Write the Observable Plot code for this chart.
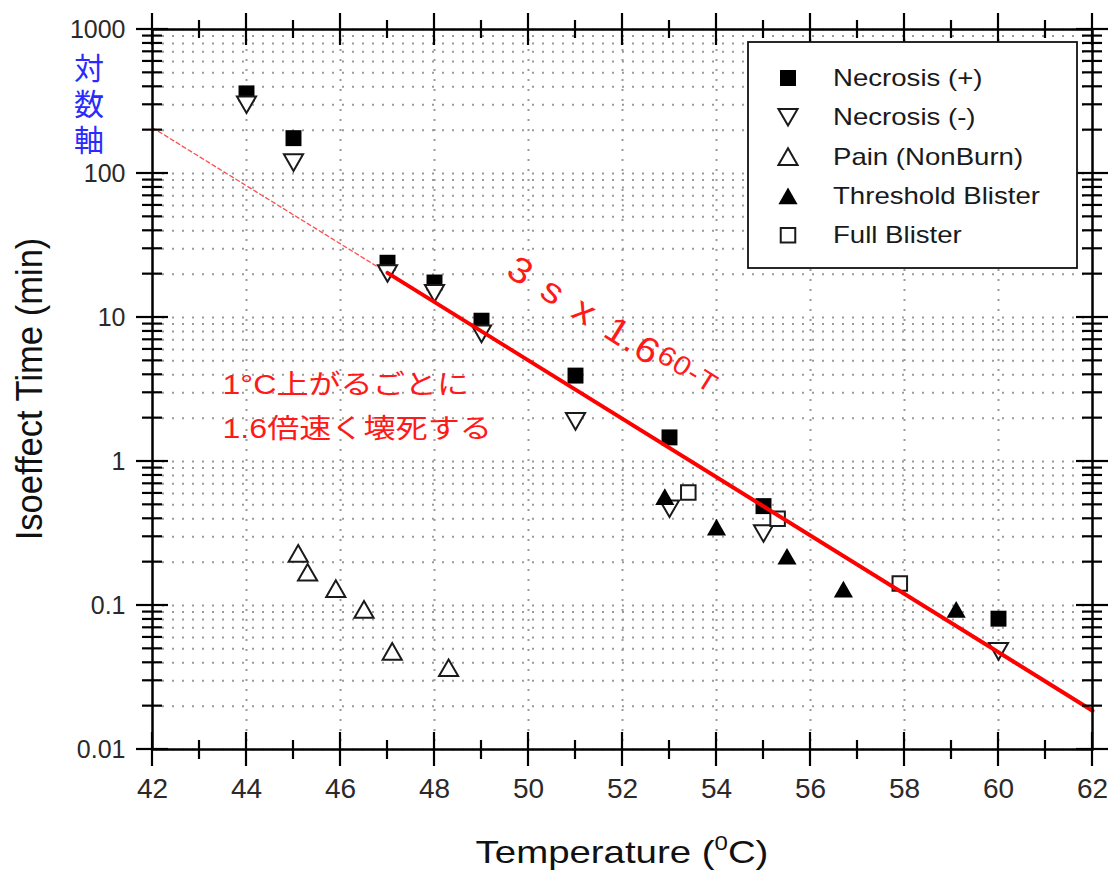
<!DOCTYPE html>
<html>
<head>
<meta charset="utf-8">
<script src="https://cdn.jsdelivr.net/npm/d3@7"></script>
<script src="https://cdn.jsdelivr.net/npm/@observablehq/plot@0.6"></script>
<style>
  html, body { margin: 0; padding: 0; background: #fff; }
  #chart svg { display: block; }
</style>
</head>
<body>
<div id="chart"></div>
<script>
// ---------------- data ----------------
const necPlusT  = [44, 45, 47, 48, 49, 51, 53, 55, 60];
const necPlusV  = [360, 176, 24, 17.5, 9.5, 3.95, 1.47, 0.49, 0.081];
const necMinusT = [44, 45, 47, 48, 49, 51, 53, 55, 60];
const necMinusV = [300, 119, 20.2, 14.7, 7.7, 1.9, 0.47, 0.316, 0.048];
const painT = [45.1, 45.3, 45.9, 46.5, 47.1, 48.3];
const painV = [0.23, 0.17, 0.131, 0.094, 0.048, 0.037];
const blisterT = [52.9, 54.0, 55.5, 56.7, 59.1];
const blisterV = [0.57, 0.35, 0.22, 0.13, 0.094];
const fullT = [53.4, 55.3, 57.9];
const fullV = [0.61, 0.40, 0.142];
// fitted line 3 s x 1.6^(60-T): dashed extrapolation then solid part
const fitDashT = [42, 47];
const fitDashV = [208, 20.4];
const fitSolidT = [47, 62];
const fitSolidV = [20.4, 0.0186];

const seriesNames = ["Necrosis (+)", "Necrosis (-)", "Pain (NonBurn)", "Threshold Blister", "Full Blister"];
const xTicks = [42, 44, 46, 48, 50, 52, 54, 56, 58, 60, 62];
const xMinorTicks = [43, 45, 47, 49, 51, 53, 55, 57, 59, 61];
const yTicks = [0.01, 0.1, 1, 10, 100, 1000];
const yTickLabels = ["0.01", "0.1", "1", "10", "100", "1000"];
const xTitle = "Temperature (";
const xTitleSup = "0";
const xTitleEnd = "C)";
const yTitle = "Isoeffect Time (min)";
const noteLines = ["1°C上がるごとに", "1.6倍速く壊死する"];
const axisNote = ["対", "数", "軸"];
const formulaMain = "3 s x 1.6";
const formulaSup = "60-T";
const formulaAt = {T: 49.5, t: 19.6};
const noteAt = {T: 43.5, t1: 2.92, t2: 1.445};

// ---------------- helpers ----------------
const zip = (T, V) => T.map((t, i) => ({T: t, V: V[i]}));
const yMinor = [];
for (let e = -2; e <= 2; e++) for (let k = 2; k <= 9; k++) yMinor.push(k * Math.pow(10, e));
const yGrid = yTicks.concat(yMinor);

const symSquare = {draw(ctx, size) { const s = Math.sqrt(size) / 2; ctx.moveTo(-s, -s); ctx.lineTo(s, -s); ctx.lineTo(s, s); ctx.lineTo(-s, s); ctx.closePath(); }};
const symUp = {draw(ctx, size) { const a = Math.sqrt(size) * 1.2, h = a * Math.sqrt(3) / 2; ctx.moveTo(0, -h / 2); ctx.lineTo(a / 2, h / 2); ctx.lineTo(-a / 2, h / 2); ctx.closePath(); }};
const symDown = {draw(ctx, size) { const a = Math.sqrt(size) * 1.2, h = a * Math.sqrt(3) / 2; ctx.moveTo(0, h / 2); ctx.lineTo(a / 2, -h / 2); ctx.lineTo(-a / 2, -h / 2); ctx.closePath(); }};

const FONT = "'Liberation Sans', Arial, 'Noto Sans CJK JP', sans-serif";
const gridStyle = {stroke: "#9a9a9a", strokeOpacity: 1, strokeWidth: 2, strokeDasharray: "2,8"};
const openStyle = {fill: "white", stroke: "#1a1a1a", strokeWidth: 2};

const seriesStyles = [
  {symbol: symSquare, r: 9, fill: "black", stroke: "none"},
  {symbol: symDown, r: 9, ...openStyle},
  {symbol: symUp, r: 9, ...openStyle},
  {symbol: symUp, r: 9, fill: "black", stroke: "none"},
  {symbol: symSquare, r: 8.2, ...openStyle}
];
const seriesData = [zip(necPlusT, necPlusV), zip(necMinusT, necMinusV), zip(painT, painV), zip(blisterT, blisterV), zip(fullT, fullV)];

const plot = Plot.plot({
  width: 1112,
  height: 878,
  marginLeft: 152,
  marginRight: 20,
  marginTop: 29,
  marginBottom: 129,
  style: {fontFamily: FONT, background: "white", color: "#2a2a2a"},
  x: {domain: [42, 62]},
  y: {type: "log", domain: [0.01, 1000]},
  marks: [
    Plot.gridX(xTicks.slice(1, -1), gridStyle),
    Plot.gridY(yGrid, gridStyle),
    Plot.line(zip(fitDashT, fitDashV), {x: "T", y: "V", stroke: "#ff4d4d", strokeWidth: 1.3, strokeDasharray: "4,3"}),
    ...seriesData.map((d, i) => Plot.dot(d, {x: "T", y: "V", ...seriesStyles[i]})),
    Plot.line(zip(fitSolidT, fitSolidV), {x: "T", y: "V", stroke: "#ff0000", strokeWidth: 4}),
    Plot.axisX(xTicks, {tickSize: 0, tickPadding: 29, fontSize: 28, label: null, tickFormat: d => String(d)}),
    Plot.axisY(yTicks, {tickSize: 0, tickPadding: 27, fontSize: 25, label: null, tickFormat: d => yTickLabels[yTicks.indexOf(d)]}),
    Plot.frame({stroke: "black", strokeWidth: 2.5})
  ]
});

document.getElementById("chart").appendChild(plot);

// ---------------- decorations using the plot's scales ----------------
const svg = d3.select(plot);
const xs = plot.scale("x"), ys = plot.scale("y");
const X = v => xs.apply(v), Y = v => ys.apply(v);
const xL = X(42), xR = X(62), yB = Y(0.01), yT = Y(1000);

// crossing ticks on all four sides
const tg = svg.append("g").attr("stroke", "black").attr("stroke-width", 2.2);
const tick = (x1, y1, x2, y2) => tg.append("line").attr("x1", x1).attr("y1", y1).attr("x2", x2).attr("y2", y2);
for (const t of xTicks) { const x = X(t); tick(x, yB - 17, x, yB + 17); tick(x, yT - 16, x, yT + 16); }
for (const t of xMinorTicks) { const x = X(t); tick(x, yB - 9, x, yB + 10); tick(x, yT - 9, x, yT + 9); }
for (const t of yTicks) { const y = Y(t); tick(xL - 16, y, xL + 16, y); tick(xR - 16, y, xR + 16, y); }
for (const t of yMinor) { const y = Y(t); tick(xL - 10, y, xL + 10, y); tick(xR - 10, y, xR + 10, y); }

function addText(x, y, str, o = {}) {
  const t = svg.append("text")
    .attr("transform", `translate(${x},${y}) rotate(${o.rotate || 0}) scale(${o.sx || 1},${o.sy || 1})`)
    .attr("font-family", o.family || FONT)
    .attr("font-size", o.size || 20)
    .attr("fill", o.fill || "#111")
    .attr("text-anchor", o.anchor || "start");
  if (o.dy) t.attr("dy", o.dy);
  if (str !== null) t.text(str);
  return t;
}

// axis titles
const xt = addText((xL + xR) / 2, 863, null, {size: 32, sx: 1.2, anchor: "middle", fill: "#111"});
xt.append("tspan").text(xTitle);
xt.append("tspan").attr("font-size", 20).attr("dy", -13).text(xTitleSup);
xt.append("tspan").attr("dy", 13).text(xTitleEnd);
addText(42, (yT + yB) / 2, yTitle, {size: 32, rotate: -90, sx: 1.08, sy: 1.15, anchor: "middle", fill: "#111"});

// blue vertical note
axisNote.forEach((c, i) => addText(89, 68 + i * 36, c, {size: 30, anchor: "middle", dy: "0.36em", fill: "#2a2aff", family: "'Noto Sans CJK JP', sans-serif"}));

// red annotation
addText(X(noteAt.T), Y(noteAt.t1), noteLines[0], {size: 27, sx: 1.19, fill: "#ff1a1a"});
addText(X(noteAt.T), Y(noteAt.t2), noteLines[1], {size: 27, sx: 1.19, fill: "#ff1a1a"});

// rotated formula
const ft = addText(X(formulaAt.T), Y(formulaAt.t), null, {size: 36, rotate: 32, sx: 1.1, fill: "#ff1a1a"});
ft.attr("word-spacing", 4).attr("letter-spacing", 1);
ft.append("tspan").text(formulaMain);
ft.append("tspan").attr("font-size", 27).attr("dy", -8).text(formulaSup);

// legend
const lg = svg.append("g");
const lx = xR - 344, ly = yT + 13, lw = 329, lh = 226;
lg.append("rect").attr("x", lx).attr("y", ly).attr("width", lw).attr("height", lh)
  .attr("fill", "white").attr("stroke", "#111").attr("stroke-width", 1.8);
seriesNames.forEach((name, i) => {
  const cy = ly + 36 + i * 39.3;
  const st = seriesStyles[i];
  const size = Math.PI * st.r * st.r;
  lg.append("path").attr("transform", `translate(${lx + 40},${cy})`)
    .attr("d", d3.symbol(st.symbol, size)())
    .attr("fill", st.fill).attr("stroke", st.stroke).attr("stroke-width", st.strokeWidth || 0);
  lg.append("text").attr("transform", `translate(${lx + 85},${cy}) scale(1.2,1)`)
    .attr("text-anchor", "start")
    .attr("font-family", FONT).attr("font-size", 23).attr("fill", "#1a1a1a").attr("dy", "0.35em").text(name);
});
</script>
</body>
</html>
